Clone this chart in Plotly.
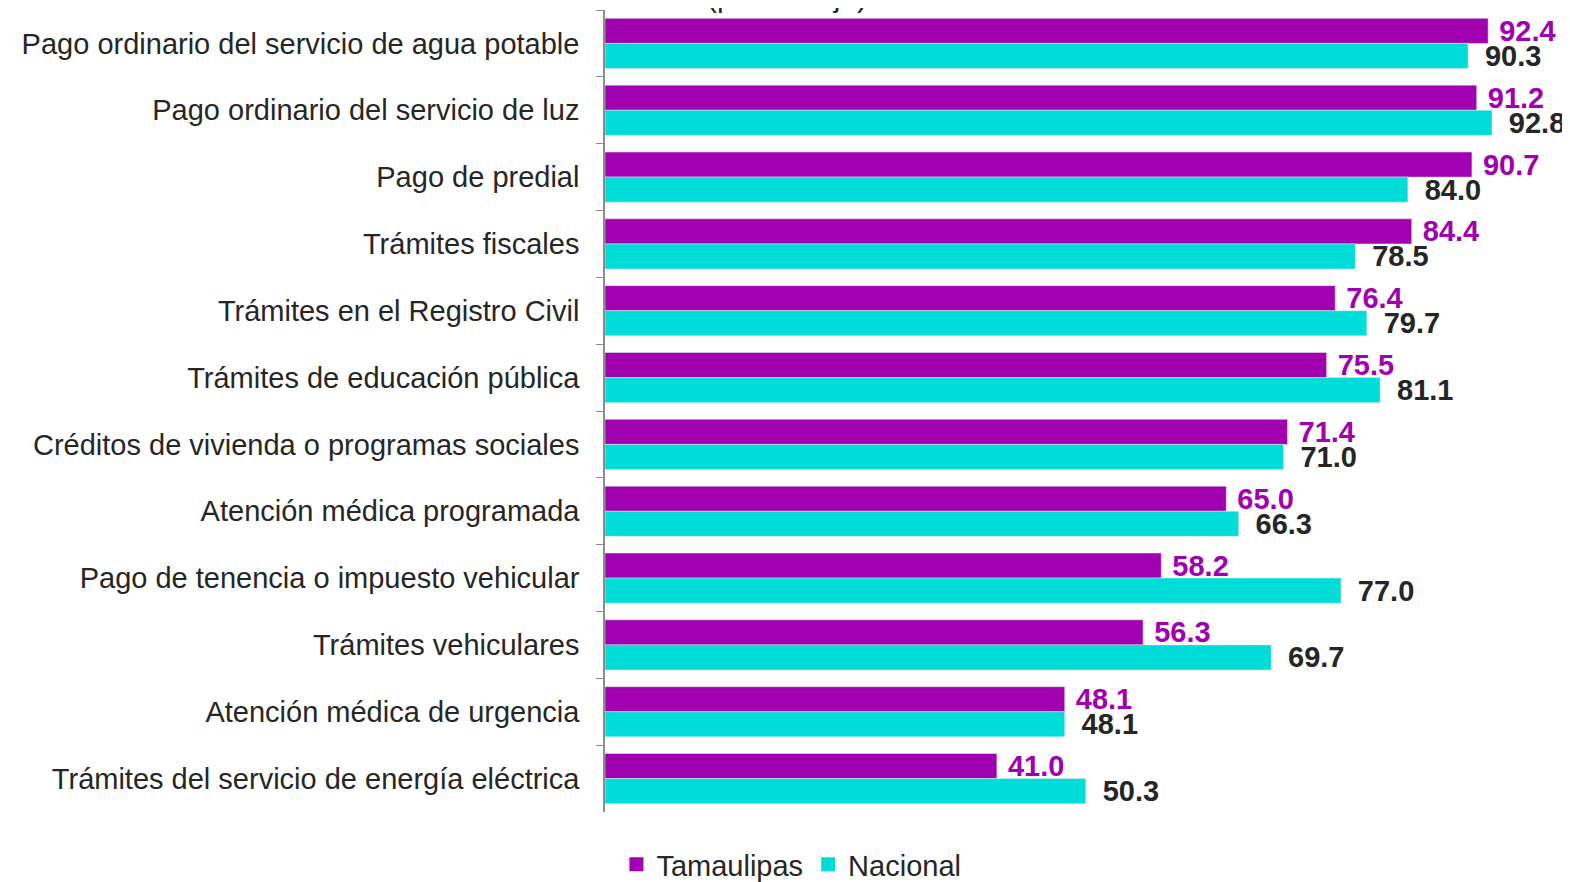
import plotly.graph_objects as go

categories = [
    "Pago ordinario del servicio de agua potable",
    "Pago ordinario del servicio de luz",
    "Pago de predial",
    "Trámites fiscales",
    "Trámites en el Registro Civil",
    "Trámites de educación pública",
    "Créditos de vivienda o programas sociales",
    "Atención médica programada",
    "Pago de tenencia o impuesto vehicular",
    "Trámites vehiculares",
    "Atención médica de urgencia",
    "Trámites del servicio de energía eléctrica",
]
tamaulipas = [92.4, 91.2, 90.7, 84.4, 76.4, 75.5, 71.4, 65.0, 58.2, 56.3, 48.1, 41.0]
nacional = [90.3, 92.8, 84.0, 78.5, 79.7, 81.1, 71.0, 66.3, 77.0, 69.7, 48.1, 50.3]

PURPLE = "#A000B0"
CYAN = "#00DCD8"
FONT = "Liberation Sans, Arial, sans-serif"

fig = go.Figure()
fig.add_trace(go.Bar(
    y=categories, x=tamaulipas, name="Tamaulipas", orientation="h",
    marker=dict(color=PURPLE), showlegend=False,
    text=[f"\u00a0{v:.1f}" for v in tamaulipas], textposition="outside",
    textfont=dict(color=PURPLE, size=29, family=FONT, weight="bold"),
    cliponaxis=False,
))
fig.add_trace(go.Bar(
    y=categories, x=nacional, name="Nacional", orientation="h",
    marker=dict(color=CYAN), showlegend=False,
    text=[f"\u00a0\u2009{v:.1f}" for v in nacional], textposition="outside",
    textfont=dict(color="#262626", size=29, family=FONT, weight="bold"),
    cliponaxis=False,
))
# legend-only entries with larger square swatches
for name, col in [("Tamaulipas", PURPLE), ("Nacional", CYAN)]:
    fig.add_trace(go.Scatter(
        x=[None], y=[None], mode="markers", name=name,
        marker=dict(symbol="square", size=14, color=col),
    ))

fig.update_layout(
    width=1570, height=882,
    paper_bgcolor="white", plot_bgcolor="white",
    margin=dict(l=597, r=0, t=2, b=78, autoexpand=False),
    barmode="group", bargap=0.25, bargroupgap=0,
    font=dict(family=FONT, color="#262626"),
    xaxis=dict(range=[0, 101.8], visible=False, showgrid=False, zeroline=False),
    yaxis=dict(
        autorange="reversed", showline=True, linecolor="#8c8c8c", linewidth=1.5,
        ticks="outside", tickson="boundaries", ticklen=7, tickcolor="#8c8c8c",
        tickfont=dict(size=29, color="#262626", family=FONT),
        ticklabelstandoff=18, showgrid=False, automargin=False,
    ),
    legend=dict(
        orientation="h", xref="container", yref="container",
        x=0.499, y=0.0, xanchor="center", yanchor="bottom",
        font=dict(size=29, color="#262626", family=FONT),
        itemwidth=30, traceorder="normal",
    ),
    uniformtext=dict(minsize=29, mode="show"),
    annotations=[dict(
        text="(porcentaje)", xref="paper", yref="paper", x=0, y=1.0,
        xanchor="left", yanchor="bottom", xshift=100, yshift=-5, showarrow=False,
        font=dict(size=30, color="#262626", family=FONT),
    )],
)

fig.write_html("out.html")
